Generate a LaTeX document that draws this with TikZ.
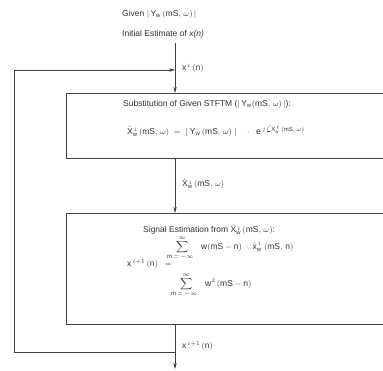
\documentclass[tikz,border=0pt]{standalone}
\usepackage{amsmath}
\usepackage{fontspec}
\setmainfont{Liberation Sans}
\usetikzlibrary{arrows.meta}
\newcommand{\ur}[1]{\mathrm{#1}}
\tikzset{
  ln/.style={draw=black!75, line width=0.7pt},
  arr/.style={ln, -{Stealth[length=6pt,width=3.5pt]}},
  boxst/.style={ln, rectangle, inner sep=0pt, anchor=north west},
  txt/.style={anchor=west, inner sep=0pt, text=black!80, font=\fontsize{8.5}{10}\selectfont},
}
\begin{document}
\begin{tikzpicture}[x=1pt,y=-1pt]
\useasboundingbox (0,0) rectangle (383,371);
\clip (0,0) rectangle (383,371);
% texts on top
\node[txt] (given) at (122,14) {Given $|\,\ur{Y}_{\ur{w}}\,(\ur{mS},\,\omega)\,|$};
\node[txt] (init) at (122,34) {Initial Estimate of \textit{x(n)}};
\coordinate (top) at (175,43);
% boxes
\node[boxst, minimum width=330pt, minimum height=65pt] (b1) at (66,93) {};
\node[boxst, minimum width=330pt, minimum height=111pt] (b2) at (66,213) {};
% box 1 content
\node[txt] (t1) at (123,104) {Substitution of Given STFTM ($|\,\ur{Y}_{\ur{w}}(\ur{mS},\,\omega)\,|$):};
\node[txt] (f1) at (127,131) {$\hat{\ur{X}}^{\,i}_{\ur{w}}\,(\ur{mS},\,\omega)\;=\;|\;\ur{Y}_{\ur{w}}\,(\ur{mS},\,\omega)\;|\quad\cdot\;\; \ur{e}^{\,j\angle \ur{X}^{\,i}_{\ur{w}}\,(\ur{mS},\,\omega)}$};
% box 2 content
\node[txt] (t2) at (143,230) {Signal Estimation from $\hat{\ur{X}}^{\,i}_{\ur{w}}\,(\ur{mS},\,\omega)$:};
\node[txt] (lhs) at (127,264) {$\ur{x}^{\,i+1}\,(\ur{n})\;\;=$};
\node[txt] (num) at (167,248) {$\displaystyle\sum_{\ur{m}\,=\,-\infty\hspace{4pt}}^{\infty}\; \ur{w}(\ur{mS}-\ur{n})\;\cdot\;\hat{\ur{x}}^{\,i}_{\ur{w}}\;(\ur{mS},\,\ur{n})$};
\node[txt] (den) at (171,285) {$\displaystyle\sum_{\ur{m}\,=\,-\infty\hspace{4pt}}^{\infty}\; \ur{w}^2\,(\ur{mS}-\ur{n})$};
% connectors
\coordinate (b1top) at (b1.north -| top);
\coordinate (b1bot) at (b1.south -| top);
\coordinate (b2top) at (b2.north -| top);
\coordinate (b2bot) at (b2.south -| top);
\coordinate (join) at (175,352);
\coordinate (out) at (175,369);
\coordinate (lpb) at (14,352);
\coordinate (lpt) at (14,70);
\coordinate (inj) at (175,70);
\draw[arr] (top) -- (b1top);
\draw[arr] (b1bot) -- (b2top);
\draw[arr] (b2bot) -- (out);
\draw[arr] (join) -- (lpb) -- (lpt) -- (inj);
% labels
\node[txt] (l1) at (182,68) {$\ur{x}^{\,i}\,(\ur{n})$};
\node[txt] (l2) at (182,184) {$\hat{\ur{X}}^{\,i}_{\ur{w}}\,(\ur{mS},\,\omega)$};
\node[txt] (l3) at (182,346) {$\ur{x}^{\,i+1}\,(\ur{n})$};
\end{tikzpicture}
\end{document}
